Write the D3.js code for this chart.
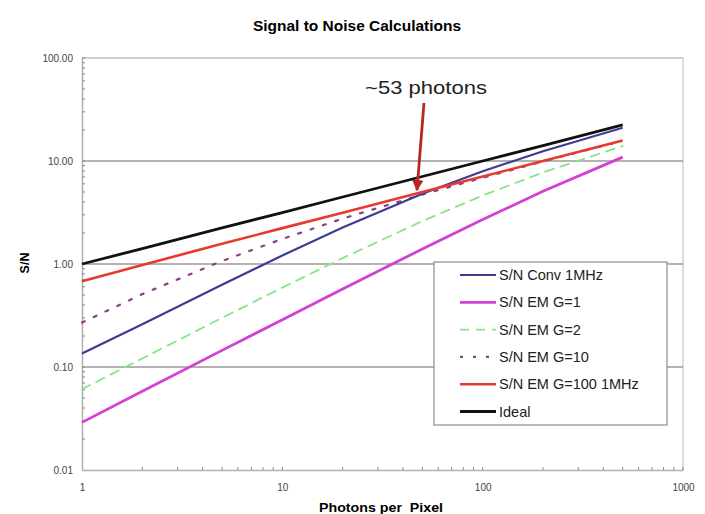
<!DOCTYPE html>
<html>
<head>
<meta charset="utf-8">
<script src="https://cdn.jsdelivr.net/npm/d3@7"></script>
<style>
  body { margin: 0; background: #fff; }
  text { font-family: "Liberation Sans", Arial, sans-serif; }
</style>
</head>
<body>
<svg id="chart" width="705" height="514"></svg>
<script>
// ---------------- data ----------------
const photons = [1, 2, 5, 10, 20, 50, 100, 200, 500];

const convSN  = [0.135, 0.26, 0.63, 1.21, 2.26, 4.81, 7.96, 12.45, 21.0];
const emG1    = [0.029, 0.058, 0.145, 0.288, 0.572, 1.40, 2.70, 5.08, 10.9];
const emG2    = [0.061, 0.121, 0.30, 0.59, 1.14, 2.61, 4.63, 7.74, 14.0];
const emG10   = [0.27, 0.51, 1.07, 1.75, 2.76, 4.72, 6.88, 9.9, 15.7];
const emG100  = [0.68, 0.98, 1.57, 2.23, 3.15, 5.0, 7.07, 10.0, 15.8];
const ideal   = [1, 1.41, 2.24, 3.16, 4.47, 7.07, 10, 14.1, 22.4];

const seriesNames = ["S/N Conv 1MHz", "S/N EM G=1", "S/N EM G=2", "S/N EM G=10", "S/N EM G=100 1MHz", "Ideal"];
const seriesValues = [convSN, emG1, emG2, emG10, emG100, ideal];

const xTicks = [1, 10, 100, 1000];
const xTickLabels = ["1", "10", "100", "1000"];
const yTicks = [0.01, 0.1, 1, 10, 100];
const yTickLabels = ["0.01", "0.10", "1.00", "10.00", "100.00"];

const annotationN = 47;     // where the arrow points
const annotationText = "~53 photons";

// ---------------- styles ----------------
const styles = [
  { color: "#3d3d8f", width: 2.2, dash: null },
  { color: "#d340d3", width: 2.8, dash: null },
  { color: "#86e686", width: 1.8, dash: "9,7" },
  { color: "#8a3f8a", width: 2.2, dash: "3,10" },
  { color: "#e8392e", width: 2.6, dash: null },
  { color: "#111111", width: 2.8, dash: null }
];

// ---------------- layout ----------------
const plotLeft = 82, plotRight = 683, plotTop = 58, plotBottom = 470;

const xScale = d3.scaleLog().domain([1, 1000]).range([plotLeft, plotRight]);
const yScale = d3.scaleLog().domain([0.01, 100]).range([plotBottom, plotTop]);

const svg = d3.select("#chart");

// title
svg.append("text")
  .attr("x", 357).attr("y", 31)
  .attr("text-anchor", "middle")
  .attr("textLength", 208).attr("lengthAdjust", "spacingAndGlyphs")
  .style("font-size", "15px").style("font-weight", "bold")
  .text("Signal to Noise Calculations");

// frame (light)
svg.append("line")
  .attr("x1", plotLeft).attr("x2", plotRight).attr("y1", plotTop).attr("y2", plotTop)
  .attr("stroke", "#cfcfcf").attr("stroke-width", 2);
svg.append("line")
  .attr("x1", plotRight).attr("x2", plotRight).attr("y1", plotTop).attr("y2", plotBottom)
  .attr("stroke", "#cfcfcf").attr("stroke-width", 1.5);

// horizontal grid lines
yTicks.filter(d => d > 0.01 && d < 100).forEach(d => {
  svg.append("line")
    .attr("x1", plotLeft).attr("x2", plotRight)
    .attr("y1", yScale(d)).attr("y2", yScale(d))
    .attr("stroke", "#9a9a9a").attr("stroke-width", 1.6);
});

// axes
const xAxis = d3.axisBottom(xScale)
  .tickValues(xTicks)
  .tickFormat((d, i) => xTickLabels[i])
  .tickSize(0).tickPadding(14);
const gx = svg.append("g")
  .attr("transform", "translate(0," + plotBottom + ")")
  .call(xAxis);
gx.select(".domain").attr("stroke", "#b0b0b0").attr("stroke-width", 1.5);
gx.selectAll("text").style("font-size", "10px").attr("fill", "#444");

const yAxis = d3.axisLeft(yScale)
  .tickValues(yTicks)
  .tickFormat((d, i) => yTickLabels[i])
  .tickSize(0).tickPadding(9);
const gy = svg.append("g")
  .attr("transform", "translate(" + plotLeft + ",0)")
  .call(yAxis);
gy.select(".domain").attr("stroke", "#b0b0b0").attr("stroke-width", 1.5);
gy.selectAll("text").style("font-size", "10px").attr("fill", "#444");

// minor ticks
const minorX = [];
const minorY = [];
for (let dec = 1; dec < 1000; dec *= 10)
  for (let k = 2; k <= 10; k++) minorX.push(dec * k);
for (let dec = 0.01; dec < 99; dec *= 10)
  for (let k = 2; k <= 10; k++) minorY.push(dec * k);

svg.append("g").selectAll("line").data(minorX).join("line")
  .attr("x1", d => xScale(d)).attr("x2", d => xScale(d))
  .attr("y1", plotBottom).attr("y2", plotBottom - 3)
  .attr("stroke", "#888").attr("stroke-width", 1);
svg.append("g").selectAll("line").data(minorY).join("line")
  .attr("x1", plotLeft).attr("x2", plotLeft + 3)
  .attr("y1", d => yScale(d)).attr("y2", d => yScale(d))
  .attr("stroke", "#888").attr("stroke-width", 1);

// axis titles
svg.append("text")
  .attr("x", 381).attr("y", 512)
  .attr("text-anchor", "middle")
  .attr("xml:space", "preserve")
  .attr("textLength", 124).attr("lengthAdjust", "spacingAndGlyphs")
  .style("font-size", "13.5px").style("font-weight", "bold")
  .text("Photons per  Pixel");

svg.append("text")
  .attr("transform", "translate(29,263) rotate(-90)")
  .attr("text-anchor", "middle")
  .style("font-size", "12.5px").style("font-weight", "bold")
  .text("S/N");

// series lines
const line = d3.line()
  .x(d => xScale(d[0]))
  .y(d => yScale(d[1]));

// draw order: light ones first, ideal last
const drawOrder = [2, 3, 1, 0, 4, 5];
drawOrder.forEach(i => {
  const pts = photons.map((n, j) => [n, seriesValues[i][j]]);
  svg.append("path")
    .datum(pts)
    .attr("d", line)
    .attr("fill", "none")
    .attr("stroke", styles[i].color)
    .attr("stroke-width", styles[i].width)
    .attr("stroke-dasharray", styles[i].dash)
    .attr("stroke-linecap", styles[i].dash ? "round" : "butt");
});

// legend
const legend = svg.append("g");
legend.append("rect")
  .attr("x", 434).attr("y", 262)
  .attr("width", 233).attr("height", 163)
  .attr("fill", "#fff")
  .attr("stroke", "#8c8c8c").attr("stroke-width", 1.2);

seriesNames.forEach((name, i) => {
  const y = 275 + i * 27.3;
  legend.append("line")
    .attr("x1", 460).attr("x2", 496)
    .attr("y1", y).attr("y2", y)
    .attr("stroke", styles[i].color)
    .attr("stroke-width", styles[i].width)
    .attr("stroke-dasharray", styles[i].dash);
  legend.append("text")
    .attr("x", 499).attr("y", y + 5)
    .style("font-size", "14.5px")
    .attr("fill", "#222")
    .text(name);
});

// annotation
svg.append("defs").append("marker")
  .attr("id", "arrowhead")
  .attr("viewBox", "0 0 10 10")
  .attr("refX", 9).attr("refY", 5)
  .attr("markerWidth", 4).attr("markerHeight", 4)
  .attr("orient", "auto")
  .append("path")
  .attr("d", "M0,0 L10,5 L0,10 Z")
  .attr("fill", "#b8261f");

svg.append("line")
  .attr("x1", xScale(annotationN) + 7).attr("y1", 103)
  .attr("x2", xScale(annotationN)).attr("y2", yScale(5.2))
  .attr("stroke", "#b8261f").attr("stroke-width", 2.8)
  .attr("marker-end", "url(#arrowhead)");

svg.append("text")
  .attr("x", 426).attr("y", 94)
  .attr("text-anchor", "middle")
  .attr("textLength", 122).attr("lengthAdjust", "spacingAndGlyphs")
  .style("font-size", "19px")
  .attr("fill", "#222")
  .text(annotationText);
</script>
</body>
</html>
